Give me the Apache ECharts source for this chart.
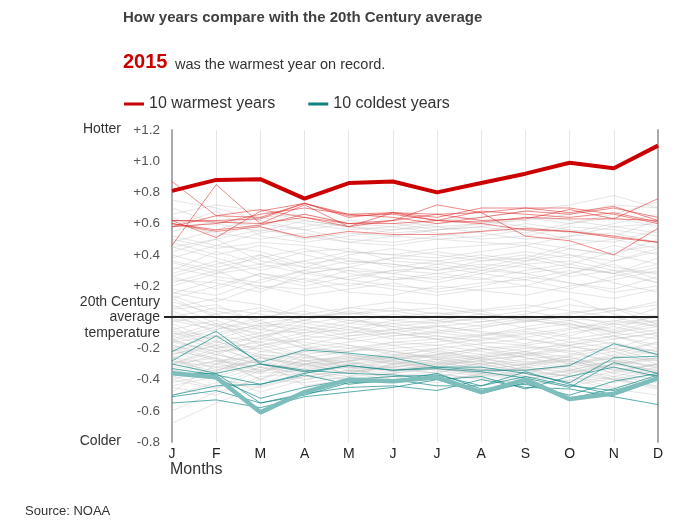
<!DOCTYPE html>
<html>
<head>
<meta charset="utf-8">
<script src="https://cdn.jsdelivr.net/npm/echarts@6/dist/echarts.min.js"></script>
<style>
  html, body { margin: 0; padding: 0; background: #fff; }
  #chart { width: 690px; height: 525px; }
</style>
</head>
<body>
<div id="chart"></div>
<script>
// Monthly anomalies vs 20th century average (°C).
var months = ['J', 'F', 'M', 'A', 'M', 'J', 'J', 'A', 'S', 'O', 'N', 'D'];
var yTicks = { min: -0.8, max: 1.2, step: 0.2 };

var year2015 = [0.81, 0.88, 0.885, 0.76, 0.86, 0.87, 0.80, 0.86, 0.92, 0.99, 0.955, 1.10];
var coldest = [-0.36, -0.385, -0.61, -0.48, -0.40, -0.41, -0.385, -0.48, -0.40, -0.525, -0.49, -0.39];

// other nine warmest years (hundredths)
var warmYears = [
  [87, 65, 64, 73, 66, 67, 64, 70, 70, 67, 71, 62],
  [46, 85, 60, 72, 58, 67, 66, 62, 63, 69, 63, 76],
  [62, 51, 68, 73, 65, 66, 62, 68, 66, 64, 67, 61],
  [60, 55, 58, 51, 55, 53, 53, 55, 57, 55, 51, 48],
  [62, 61, 60, 64, 58, 62, 72, 67, 52, 49, 40, 57],
  [58, 65, 69, 64, 60, 62, 66, 67, 70, 70, 66, 60],
  [62, 62, 63, 73, 64, 67, 62, 61, 64, 63, 63, 62],
  [60, 56, 59, 66, 60, 60, 62, 60, 56, 55, 52, 48],
  [58, 60, 66, 70, 66, 64, 60, 64, 68, 66, 70, 64]
];

// other nine coldest years (hundredths)
var coldYears = [
  [-22, -9, -30, -35, -31, -34, -32, -34, -34, -31, -17, -24],
  [-28, -12, -29, -21, -23, -26, -32, -32, -36, -42, -26, -25],
  [-33, -37, -43, -36, -31, -34, -33, -35, -39, -45, -29, -36],
  [-35, -39, -52, -45, -40, -38, -37, -44, -38, -44, -47, -39],
  [-51, -47, -55, -49, -45, -44, -47, -40, -45, -46, -51, -56],
  [-55, -53, -58, -51, -48, -45, -40, -49, -42, -52, -46, -37],
  [-36, -36, -55, -50, -42, -41, -36, -46, -43, -50, -41, -36],
  [-50, -44, -43, -37, -43, -40, -44, -44, -35, -43, -50, -40],
  [-30, -36, -30, -34, -36, -37, -40, -38, -46, -38, -32, -38]
];

// all remaining years (hundredths)
var otherYears = [
  [-30, -22, -35, -28, -25, -30, -24, -20, -26, -32, -28, -35],
  [-25, -38, -30, -33, -28, -22, -27, -31, -24, -29, -36, -30],
  [-40, -32, -28, -35, -38, -30, -33, -36, -40, -34, -28, -31],
  [-18, -27, -35, -30, -24, -28, -32, -26, -22, -30, -25, -20],
  [-45, -50, -38, -36, -32, -34, -30, -35, -33, -38, -42, -36],
  [-22, -15, -26, -31, -28, -25, -20, -24, -29, -27, -22, -30],
  [-35, -28, -40, -26, -30, -33, -36, -29, -31, -25, -34, -38],
  [-28, -35, -22, -24, -33, -27, -25, -30, -35, -38, -30, -26],
  [-12, -20, -28, -22, -18, -24, -26, -21, -19, -23, -28, -32],
  [-38, -45, -32, -40, -35, -31, -34, -38, -36, -30, -26, -33],
  [-50, -42, -45, -38, -34, -36, -40, -37, -41, -44, -39, -45],
  [-26, -30, -18, -25, -29, -32, -28, -34, -30, -25, -20, -24],
  [-32, -24, -30, -35, -40, -38, -35, -32, -28, -33, -38, -42],
  [-20, -28, -32, -20, -22, -18, -23, -27, -25, -21, -30, -26],
  [-42, -36, -26, -32, -28, -35, -31, -28, -34, -38, -45, -40],
  [-15, -22, -20, -28, -26, -30, -27, -24, -20, -18, -25, -28],
  [-34, -40, -44, -30, -27, -25, -29, -33, -38, -41, -35, -30],
  [-24, -18, -30, -38, -34, -28, -22, -26, -32, -36, -31, -27],
  [-60, -48, -40, -42, -38, -36, -33, -35, -39, -37, -40, -46],
  [-28, -32, -36, -24, -20, -22, -26, -30, -27, -24, -18, -22],
  [-36, -30, -24, -28, -32, -40, -38, -34, -30, -28, -33, -36],
  [-20, -34, -26, -30, -36, -32, -29, -25, -22, -26, -32, -38],
  [-44, -38, -48, -40, -35, -32, -36, -40, -42, -36, -30, -34],
  [-10, -18, -24, -26, -22, -20, -18, -22, -26, -30, -24, -16],
  [-30, -26, -34, -22, -24, -29, -33, -36, -32, -27, -36, -40],
  [-68, -55, -44, -38, -40, -42, -37, -39, -43, -40, -46, -50],
  [-26, -40, -32, -36, -30, -26, -24, -28, -34, -31, -26, -22],
  [-16, -12, -22, -18, -24, -27, -30, -28, -24, -20, -16, -24],
  [-38, -34, -28, -44, -40, -36, -32, -30, -36, -42, -38, -32],
  [-22, -26, -40, -30, -26, -24, -21, -27, -30, -34, -28, -26],
  [-48, -30, -36, -34, -30, -28, -33, -37, -35, -31, -40, -44],
  [-30, -20, -16, -24, -32, -35, -30, -26, -23, -28, -34, -30],
  [-14, -24, -30, -34, -28, -26, -24, -20, -18, -22, -20, -28],
  [-40, -46, -34, -28, -34, -38, -42, -36, -32, -35, -30, -36],
  [-33, -28, -25, -30, -36, -30, -27, -32, -38, -34, -40, -34],
  [-8, -2, -12, -6, -10, -4, -8, -12, -6, -2, -10, -14],
  [2, -10, -5, -8, -2, -6, -3, -1, -7, -12, -4, 0],
  [-15, -8, -2, -12, -14, -10, -6, -9, -13, -8, -2, -6],
  [5, 8, -4, 0, 3, -2, 1, 4, -3, 2, 6, -5],
  [-4, -16, -10, -2, -6, -12, -9, -5, -1, -6, -14, -10],
  [-20, -12, -16, -10, -8, -14, -12, -16, -18, -14, -10, -4],
  [10, 2, 6, -2, 4, 0, 3, -1, 2, 8, 4, 10],
  [-12, -4, -18, -14, -10, -8, -5, -10, -14, -18, -12, -8],
  [-2, -8, 0, 4, -4, 2, -2, -6, -3, 1, -5, -2],
  [-18, -24, -14, -16, -20, -16, -18, -14, -10, -16, -20, -12],
  [8, -4, -8, 2, 6, 4, 0, -3, 1, -2, -8, 2],
  [-10, -14, -6, -18, -12, -10, -14, -11, -8, -4, -12, -18],
  [0, 6, 2, -4, -8, -2, -4, 0, 4, -1, -3, 6],
  [-6, -20, -12, -8, -14, -18, -16, -12, -9, -13, -17, -22],
  [14, 4, -2, 8, 2, 6, 2, 5, 8, 4, 0, -6],
  [-14, -6, -10, -20, -16, -12, -10, -13, -17, -10, -6, -12],
  [-3, 2, -8, -10, -4, -6, -10, -7, -2, -5, -9, -2],
  [-24, -16, -20, -14, -18, -22, -20, -17, -14, -19, -22, -16],
  [4, -6, 4, 2, -2, -4, -2, 2, -1, 3, 6, 0],
  [-9, -12, -4, -6, -12, -8, -12, -15, -11, -7, -4, -10],
  [-16, -22, -18, -12, -6, -10, -14, -18, -22, -16, -12, -20],
  [6, 12, 8, 0, 2, 4, 6, 2, -2, 0, 4, 8],
  [-26, -18, -12, -20, -22, -16, -14, -20, -24, -18, -14, -10],
  [-1, -5, -14, -4, 0, -8, -6, -3, 0, -4, -10, -6],
  [12, 0, -6, -2, 6, 10, 8, 4, 6, 12, 2, -4],
  [22, 30, 18, 25, 20, 26, 22, 28, 24, 18, 26, 32],
  [35, 28, 40, 32, 30, 28, 34, 30, 36, 40, 32, 28],
  [15, 24, 20, 14, 18, 22, 16, 20, 26, 22, 16, 20],
  [40, 32, 38, 44, 36, 34, 30, 36, 40, 34, 42, 46],
  [26, 18, 28, 22, 30, 24, 28, 25, 20, 28, 34, 24],
  [30, 42, 34, 28, 32, 38, 36, 32, 28, 32, 28, 38],
  [18, 14, 24, 30, 24, 20, 18, 22, 24, 30, 22, 16],
  [45, 38, 30, 36, 42, 40, 38, 42, 46, 40, 36, 44],
  [28, 36, 26, 20, 26, 30, 32, 28, 34, 26, 30, 22],
  [12, 20, 28, 24, 16, 14, 20, 17, 14, 20, 24, 30],
  [38, 46, 42, 34, 38, 32, 36, 40, 36, 44, 40, 34],
  [24, 22, 16, 28, 32, 28, 24, 30, 28, 22, 18, 26],
  [48, 40, 46, 40, 34, 38, 42, 38, 42, 38, 46, 40],
  [20, 28, 32, 36, 28, 24, 26, 24, 30, 34, 28, 22],
  [32, 26, 22, 30, 36, 34, 30, 34, 32, 28, 36, 42],
  [42, 50, 36, 32, 40, 44, 40, 36, 38, 46, 50, 44],
  [16, 10, 20, 18, 22, 18, 14, 18, 20, 16, 12, 18],
  [36, 30, 34, 42, 44, 36, 34, 38, 34, 36, 30, 28],
  [26, 34, 40, 28, 24, 30, 28, 32, 38, 32, 28, 34],
  [50, 44, 48, 46, 42, 40, 44, 46, 48, 44, 40, 50],
  [55, 62, 58, 50, 54, 52, 56, 58, 54, 60, 64, 58],
  [64, 52, 60, 56, 50, 48, 52, 55, 60, 56, 52, 62],
  [48, 56, 64, 60, 56, 58, 54, 50, 52, 58, 56, 52],
  [70, 60, 55, 62, 58, 56, 60, 62, 58, 54, 60, 66],
  [58, 68, 52, 48, 52, 56, 58, 54, 50, 52, 58, 54],
  [52, 46, 54, 58, 62, 60, 56, 60, 64, 62, 58, 60],
  [75, 70, 62, 56, 60, 62, 58, 60, 62, 66, 72, 70],
  [60, 54, 50, 54, 48, 52, 50, 52, 56, 50, 48, 56],
  [66, 72, 68, 62, 58, 54, 56, 58, 64, 60, 66, 74],
  [45, 50, 56, 52, 48, 46, 50, 48, 46, 52, 54, 48],
  [58, 60, 64, 66, 60, 58, 62, 64, 68, 72, 78, 70]
];

var WARM = '10 warmest years';
var COLD = '10 coldest years';
var FONT = '"Liberation Sans", Arial, sans-serif';

function hundredths(row) {
  return row.map(function (v) { return v / 100; });
}

function lineSeries(name, data, color, width, opacity, z) {
  return {
    type: 'line',
    name: name,
    data: data,
    symbol: 'none',
    silent: true,
    z: z,
    lineStyle: { color: color, width: width, opacity: opacity },
    itemStyle: { color: color }
  };
}

var series = [];
otherYears.forEach(function (row) {
  series.push(lineSeries('other', hundredths(row), '#bdbdbd', 1, 0.4, 2));
});
warmYears.forEach(function (row) {
  series.push(lineSeries(WARM, hundredths(row), '#e02828', 1, 0.55, 3));
});
coldYears.forEach(function (row) {
  series.push(lineSeries(COLD, hundredths(row), '#138a87', 1, 0.7, 3));
});

var zeroLine = lineSeries('avg', [], '#222', 2, 1, 4);
zeroLine.markLine = {
  silent: true,
  symbol: 'none',
  label: { show: false },
  lineStyle: { color: '#222', width: 2, type: 'solid' },
  data: [{ yAxis: 0 }]
};
series.push(zeroLine);
series.push(lineSeries(COLD, coldest, '#7dbdbb', 4.5, 1, 5));
series.push(lineSeries(WARM, year2015, '#cc0000', 4, 1, 6));

function tickLabel(v) {
  var r = Math.round(v * 10) / 10;
  if (r === 0) return '{avg|20th Century\naverage\ntemperature}';
  return (r > 0 ? '+' : '') + r.toFixed(1);
}

var chart = echarts.init(document.getElementById('chart'));
chart.setOption({
  animation: false,
  textStyle: { fontFamily: FONT },
  grid: { left: 172, right: 32, top: 130, bottom: 83 },
  legend: {
    left: 119,
    top: 91,
    selectedMode: false,
    icon: 'rect',
    itemWidth: 20,
    itemHeight: 3,
    itemGap: 33,
    textStyle: { fontSize: 16, color: '#333', fontFamily: FONT },
    data: [
      { name: WARM, itemStyle: { color: '#cc0000' } },
      { name: COLD, itemStyle: { color: '#0f827f' } }
    ]
  },
  xAxis: {
    type: 'category',
    data: months,
    boundaryGap: false,
    axisLine: { show: false },
    axisTick: { show: false },
    axisLabel: { color: '#222', fontSize: 14, margin: 5, fontFamily: FONT },
    splitLine: { show: true, lineStyle: { color: '#e6e6e6', width: 1 } }
  },
  yAxis: [
    {
      type: 'value',
      min: yTicks.min,
      max: yTicks.max,
      interval: yTicks.step,
      axisLine: { show: true, lineStyle: { color: '#aaa', width: 2 } },
      axisTick: {
        show: true,
        customValues: [0],
        length: 8,
        lineStyle: { color: '#222', width: 2 }
      },
      splitLine: { show: false },
      axisLabel: {
        color: '#555',
        fontSize: 13.5,
        margin: 12,
        fontFamily: FONT,
        formatter: tickLabel,
        rich: {
          avg: { fontSize: 14, lineHeight: 15.5, color: '#333', align: 'right', fontFamily: FONT }
        }
      }
    },
    {
      type: 'value',
      position: 'right',
      min: yTicks.min,
      max: yTicks.max,
      interval: yTicks.step,
      axisLine: { show: true, lineStyle: { color: '#aaa', width: 2 } },
      axisTick: { show: false },
      splitLine: { show: false },
      axisLabel: { show: false }
    }
  ],
  graphic: [
    {
      type: 'text', left: 123, top: 10,
      style: { text: 'How years compare with the 20th Century average', font: 'bold 15px ' + FONT, fill: '#404040' }
    },
    {
      type: 'text', left: 123, top: 52,
      style: { text: '2015', font: 'bold 20px ' + FONT, fill: '#cc0000' }
    },
    {
      type: 'text', left: 175, top: 57,
      style: { text: 'was the warmest year on record.', font: '14.5px ' + FONT, fill: '#333' }
    },
    {
      type: 'text', right: 569, top: 122,
      style: { text: 'Hotter', font: '14px ' + FONT, fill: '#333', align: 'right' }
    },
    {
      type: 'text', right: 569, top: 434,
      style: { text: 'Colder', font: '14px ' + FONT, fill: '#333', align: 'right' }
    },
    {
      type: 'text', left: 170, top: 462,
      style: { text: 'Months', font: '16px ' + FONT, fill: '#333' }
    },
    {
      type: 'text', left: 25, top: 505,
      style: { text: 'Source: NOAA', font: '13px ' + FONT, fill: '#333' }
    }
  ],
  series: series
});
</script>
</body>
</html>
